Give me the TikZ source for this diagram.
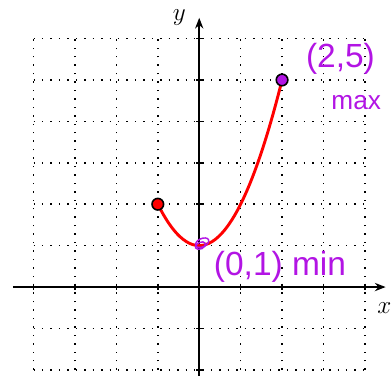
\documentclass[tikz,border=0pt]{standalone}
\usepackage{fontspec}
\usepackage{xcolor}
\usepackage{tikz}
\usetikzlibrary{arrows.meta}
\newfontfamily\handfont{Liberation Sans}
\definecolor{hand}{RGB}{178,20,228}

\begin{document}
\begin{tikzpicture}[
  font=\LARGE,
  gridline/.style={line width=1pt,dash pattern=on 1pt off 4.8pt},
  axis/.style={line width=1pt,-{Stealth[length=2.6mm,width=2mm]}},
  tick/.style={line width=1pt},
  curve/.style={red,line width=2pt},
  ink/.style={text=hand,font=\handfont\fontsize{23}{23}\selectfont},
  enddot/.style={circle,draw=black,line width=1.1pt,fill=red,inner sep=0pt,minimum size=2.8mm},
  maxdot/.style={circle,draw=black,line width=1.1pt,fill=hand,inner sep=0pt,minimum size=2.8mm}
]
\useasboundingbox (-4.81,-2.13) rectangle (4.63,6.93);
\draw[gridline] (-4,-2) grid (4,6);
\draw[axis] (-4.5,0) -- (4.5,0) coordinate (xend);
\draw[axis] (0,-2.5) -- (0,6.5) coordinate (yend);
\foreach \x in {-4,...,4} \draw[tick] (\x,0.08) -- (\x,-0.08);
\foreach \y in {-2,...,6} \draw[tick] (0.08,\y) -- (-0.08,\y);
\node (xlab) at (4.47,-0.5) {$x$};
\node (ylab) at (-0.48,6.5) {$y$};

\draw[curve,domain=-1:2,smooth,samples=40] plot (\x,{\x*\x+1});
\node[enddot] (left) at (-1,2) {};
\node[maxdot] (top) at (2,5) {};
\draw[hand,line width=1pt,rotate around={25:(0.07,1.07)}] (0.07,1.07) ellipse (0.17 and 0.1);
\draw[hand,line width=1pt,rotate around={25:(0.03,1.0)}] (0.03,1.0) ellipse (0.13 and 0.08);

\node[ink] (maxlab) at (3.41,5.52) {(2,5)};
\node[ink,font=\handfont\fontsize{18}{18}\selectfont] (maxword) at (3.79,4.45) {max};
\node[ink] (minlab) at (1.95,0.48) {(0,1) min};
\end{tikzpicture}
\end{document}
